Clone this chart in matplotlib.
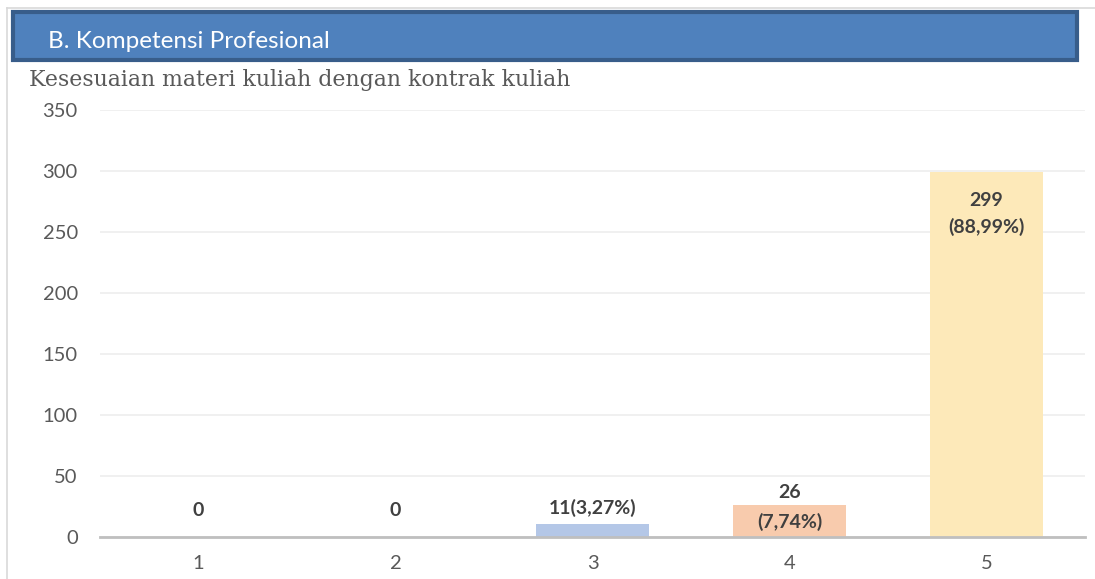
import matplotlib.pyplot as plt
import matplotlib.patches as patches
from matplotlib.lines import Line2D

plt.rcParams['font.family'] = ['Lato', 'DejaVu Sans']

# data
categories = ['1', '2', '3', '4', '5']
counts = [0, 0, 11, 26, 299]
top_labels = ['0', '0', '11(3,27%)', '26', '299']
sub_labels = ['', '', '', '(7,74%)', '(88,99%)']
bar_colors = ['#B4C7E7', '#B4C7E7', '#B4C7E7', '#F8CBAD', '#FDE9B9']
y_ticks = [0, 50, 100, 150, 200, 250, 300, 350]

W, H = 1095, 579
fig = plt.figure(figsize=(W / 100, H / 100), dpi=100)

# outer frame lines
fig.add_artist(Line2D([7 / W, 7 / W], [0, 1 - 8 / H], color='#D9D9D9', lw=1.2))
fig.add_artist(Line2D([7 / W, 1], [1 - 8 / H, 1 - 8 / H], color='#D9D9D9', lw=1.2))

# header box
hdr = patches.Rectangle((13 / W, 1 - 60 / H), (1077 - 13) / W, 48 / H,
                        transform=fig.transFigure, facecolor='#4F81BD',
                        edgecolor='#385D8A', linewidth=3)
fig.add_artist(hdr)
fig.text(48 / W, 1 - 41 / H, 'B. Kompetensi Profesional', color='white',
         fontsize=17.5, va='center', ha='left')

# subtitle
fig.text(29 / W, 1 - 80 / H, 'Kesesuaian materi kuliah dengan kontrak kuliah',
         color='#595959', fontsize=15.8, va='center', ha='left',
         family=['DejaVu Serif'])

ax = fig.add_axes([100 / W, (H - 537) / H, (1085 - 100) / W, (537 - 110) / H])
x = list(range(len(categories)))
ax.bar(x, counts, width=0.575, color=bar_colors, zorder=2)

ax.set_xlim(-0.5, len(categories) - 0.5)
ax.set_ylim(0, 350)
ax.set_yticks(y_ticks)
ax.set_xticks(x)
ax.set_xticklabels(categories)
ax.tick_params(axis='both', length=0, labelsize=14.5, labelcolor='#595959')
ax.tick_params(axis='y', pad=16)
ax.tick_params(axis='x', pad=13)
ax.grid(axis='y', color='#EDEDED', lw=1.2, zorder=0)
for s in ['top', 'right', 'left']:
    ax.spines[s].set_visible(False)
ax.spines['bottom'].set_color('#BFBFBF')
ax.spines['bottom'].set_linewidth(2)
ax.spines['bottom'].set_zorder(3)

lab_kw = dict(ha='center', va='center', fontsize=14, fontweight='bold',
              color='#404040', textcoords='offset pixels')
for i, v in enumerate(counts):
    if sub_labels[i] and v > 100:
        ax.annotate(top_labels[i], (i, v), xytext=(0, -28), **lab_kw)
        ax.annotate(sub_labels[i], (i, v), xytext=(0, -55), **lab_kw)
    elif sub_labels[i]:
        ax.annotate(top_labels[i], (i, v), xytext=(0, 13), **lab_kw)
        ax.annotate(sub_labels[i], (i, v), xytext=(0, -17), **lab_kw)
    else:
        ax.annotate(top_labels[i], (i, v), xytext=(0, 26 if v == 0 else 16), **lab_kw)

fig.savefig('out.png', dpi=100)
